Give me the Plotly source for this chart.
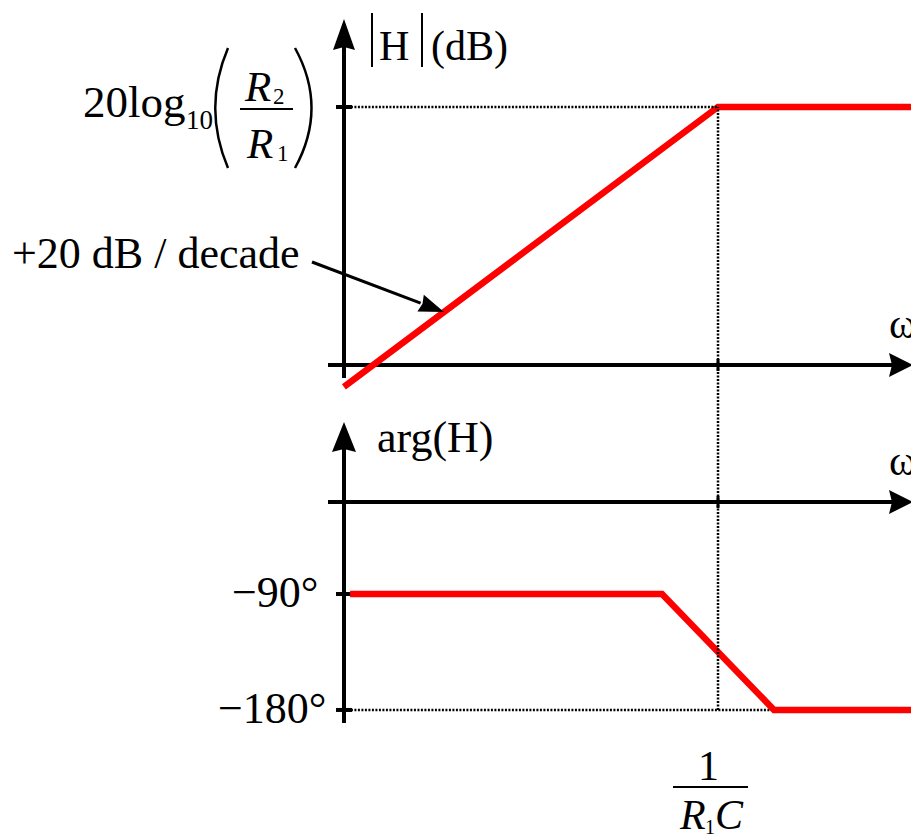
import math
import plotly.graph_objects as go

W, H = 911, 836

# Asymptotic Bode plot; x is log10(omega * R1*C) in decades (corner at 0)
mag_w = [-6.68, 0.0, 3.45]
mag_db = [-10.4, 123.2, 123.2]
phase_w = [-6.57, -1.0, 1.0, 3.45]
phase_deg = [-90, -90, -180, -180]
gain_db = 123.2          # level of 20log10(R2/R1)
corner_w = 0.0           # omega = 1/(R1 C)
phase_ticks = [-90, -180]
phase_tick_text = ["\u221290\u00b0", "\u2212180\u00b0"]

X_RANGE = [-12.821, 3.446]
MAG_RANGE = [-224.9, 174.3]
PHASE_RANGE = [-277.8, 370.9]

SERIF = "Liberation Serif, Times New Roman, serif"
RED = "#ff0000"
INK = "#000000"


def PX(x):
    return x / W


def PY(y):
    return 1 - y / H


def seg(x0, y0, x1, y1, width=4, color=INK, dash=None, layer="below"):
    line = dict(color=color, width=width)
    if dash:
        line["dash"] = dash
    return dict(type="line", xref="paper", yref="paper",
                x0=PX(x0), y0=PY(y0), x1=PX(x1), y1=PY(y1),
                line=line, layer=layer)


def poly(points, color=INK, layer="below"):
    d = "M " + " L ".join(f"{PX(x):.5f},{PY(y):.5f}" for x, y in points) + " Z"
    return dict(type="path", xref="paper", yref="paper", path=d,
                fillcolor=color, line=dict(width=0), layer=layer)


def curve(p0, c1, c2, p1, width=2.5):
    d = (f"M {PX(p0[0]):.5f},{PY(p0[1]):.5f} "
         f"C {PX(c1[0]):.5f},{PY(c1[1]):.5f} {PX(c2[0]):.5f},{PY(c2[1]):.5f} "
         f"{PX(p1[0]):.5f},{PY(p1[1]):.5f}")
    return dict(type="path", xref="paper", yref="paper", path=d,
                line=dict(color=INK, width=width), layer="above")


def arrow_head(tip, frm, length, half, notch=3):
    dx, dy = tip[0] - frm[0], tip[1] - frm[1]
    n = math.hypot(dx, dy)
    ux, uy = dx / n, dy / n
    bx, by = tip[0] - ux * length, tip[1] - uy * length
    px_, py_ = -uy, ux
    return [tip,
            (bx + px_ * half, by + py_ * half),
            (bx + ux * notch, by + uy * notch),
            (bx - px_ * half, by - py_ * half)]


def label(text, x, y, size, xanchor="left", italic=False):
    f = dict(family=SERIF, size=size, color=INK)
    if italic:
        f["style"] = "italic"
    return dict(text=text, x=PX(x), y=PY(y), xref="paper", yref="paper",
                xanchor=xanchor, yanchor="middle", showarrow=False, font=f)


fig = go.Figure()

fig.add_trace(go.Scatter(x=mag_w, y=mag_db, mode="lines", xaxis="x", yaxis="y",
                         line=dict(color=RED, width=6.5), hoverinfo="skip",
                         showlegend=False))
fig.add_trace(go.Scatter(x=phase_w, y=phase_deg, mode="lines", xaxis="x", yaxis="y2",
                         line=dict(color=RED, width=6.5), hoverinfo="skip",
                         showlegend=False))

shapes = []

# axes with arrow heads
shapes.append(seg(344, 42, 344, 378))
shapes.append(poly(arrow_head((344, 19), (344, 60), 31, 11)))
shapes.append(seg(328, 365, 893, 365))
shapes.append(poly(arrow_head((913, 365), (880, 365), 24, 12)))
shapes.append(seg(344, 445, 344, 723))
shapes.append(poly(arrow_head((344, 422), (344, 470), 30, 12)))
shapes.append(seg(328, 502, 893, 502))
shapes.append(poly(arrow_head((913, 502), (880, 502), 24, 12)))

# tick marks on the vertical axes at data levels
shapes.append(dict(type="line", xref="paper", yref="y", x0=PX(336), x1=PX(352),
                   y0=gain_db, y1=gain_db, line=dict(color=INK, width=4), layer="below"))
for t in phase_ticks:
    shapes.append(dict(type="line", xref="paper", yref="y2", x0=PX(336), x1=PX(352),
                       y0=t, y1=t, line=dict(color=INK, width=4), layer="below"))
# tick marks on the frequency axes at the corner
for yy in (365, 502):
    shapes.append(dict(type="line", xref="x", yref="paper", x0=corner_w, x1=corner_w,
                       y0=PY(yy - 6), y1=PY(yy + 6), line=dict(color=INK, width=3),
                       layer="below"))

# dotted guide lines
DOT = dict(color=INK, width=2.5, dash="2px,1.5px")
shapes.append(dict(type="line", xref="x", yref="y", x0=mag_w[0], x1=corner_w,
                   y0=gain_db, y1=gain_db, line=DOT, layer="above"))
shapes.append(dict(type="line", xref="x", yref="y2", x0=mag_w[0], x1=phase_w[2],
                   y0=phase_deg[-1], y1=phase_deg[-1], line=DOT, layer="below"))
shapes.append(dict(type="line", xref="x", yref="paper", x0=corner_w, x1=corner_w,
                   y0=PY(710), y1=PY(107), line=DOT, layer="above"))

# |H| bars
shapes.append(seg(372, 13, 372, 67, width=2, layer="above"))
shapes.append(seg(422, 13, 422, 67, width=2, layer="above"))

# big parentheses and fraction bar of R2/R1
shapes.append(curve((228, 48), (211, 88), (211, 128), (228, 168)))
shapes.append(curve((295, 48), (317, 88), (317, 128), (295, 168)))
shapes.append(seg(240, 109, 293, 109, width=2, layer="above"))

# fraction bar of 1/(R1 C)
shapes.append(seg(673, 787, 748, 787, width=2, layer="above"))

# slope annotation arrow
a_from, a_tip = (312, 262), (444, 312)
head = arrow_head(a_tip, a_from, 25, 9, notch=2)
bx = (head[1][0] + head[3][0]) / 2
by = (head[1][1] + head[3][1]) / 2
shapes.append(seg(a_from[0], a_from[1], bx, by, width=3, layer="above"))
shapes.append(poly(head, layer="above"))

annotations = [
    label("H", 394, 46, 42, xanchor="center"),
    label("(dB)", 429, 46, 42),
    label("20log", 81, 102, 45),
    label("10", 184, 120, 27),
    label("R", 242, 86.5, 43, italic=True),
    label("2", 271, 96, 23),
    label("R", 244, 143.5, 43, italic=True),
    label("1", 275, 153, 23),
    label("+20 dB / decade", 10, 254, 44),
    label("arg(H)", 375, 437.5, 44),
    label("\u03c9", 887, 323.5, 42),
    label("\u03c9", 887, 460.5, 42),
    label("1", 708, 766, 42, xanchor="center"),
    label("R", 677, 815, 42, italic=True),
    label("1", 703, 827, 20),
    label("C", 713, 815, 42, italic=True),
]
for t, txt, xr in zip(phase_ticks, phase_tick_text, (320, 328)):
    annotations.append(dict(text=txt, x=PX(xr), y=t, xref="paper", yref="y2",
                            xanchor="right", yanchor="middle", yshift=1, showarrow=False,
                            font=dict(family=SERIF, size=44, color=INK)))

fig.update_layout(
    width=W, height=H,
    margin=dict(l=0, r=0, t=0, b=0, pad=0),
    paper_bgcolor="white", plot_bgcolor="white",
    xaxis=dict(range=X_RANGE, visible=False, fixedrange=True),
    yaxis=dict(range=MAG_RANGE, visible=False, fixedrange=True),
    yaxis2=dict(range=PHASE_RANGE, visible=False, overlaying="y", fixedrange=True),
    shapes=shapes,
    annotations=annotations,
    showlegend=False,
)

fig.write_html("out.html")
